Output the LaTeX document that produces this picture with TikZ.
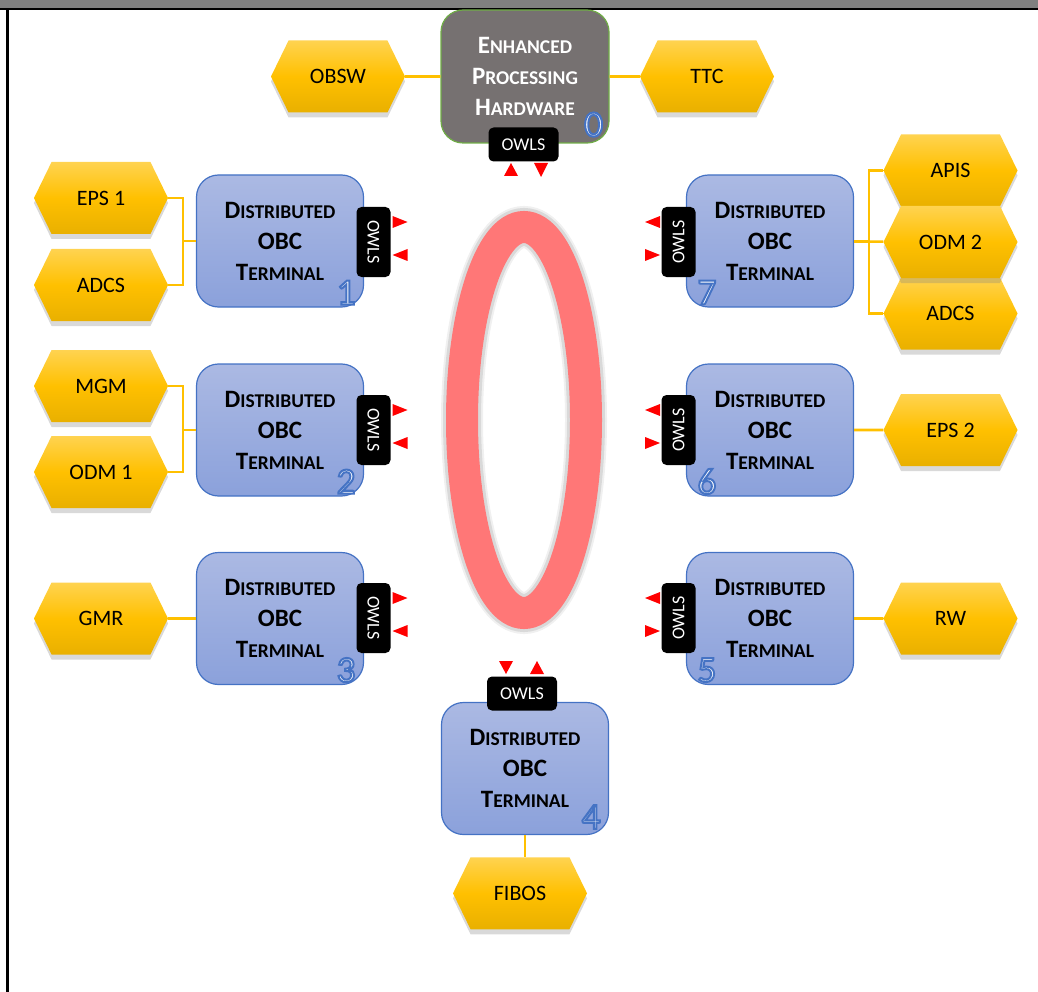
\documentclass[tikz,border=0pt]{standalone}
\usepackage{fontspec}
\setmainfont{Carlito}
\usetikzlibrary{positioning,shapes.symbols,shadows}

\definecolor{hexgold}{HTML}{FFC000}
\definecolor{hextop}{HTML}{FFD350}
\definecolor{hexbot}{HTML}{E9B000}
\definecolor{termtop}{HTML}{ABB9E3}
\definecolor{termbot}{HTML}{8BA1DB}
\definecolor{termline}{HTML}{4472C4}
\definecolor{ehpgray}{HTML}{767171}
\definecolor{ehpline}{HTML}{70AD47}
\definecolor{ringred}{HTML}{FF7777}
\definecolor{owlred}{HTML}{FF0000}
\definecolor{framegray}{HTML}{808080}

\newcommand{\capsc}[2]{{\fontsize{25}{31}\selectfont #1}{\fontsize{19.5}{31}\selectfont #2}}
\newcommand{\dobc}{\capsc{D}{ISTRIBUTED}\\\capsc{OBC}{}\\\capsc{T}{ERMINAL}}
\newcommand{\outlineno}[1]{\special{pdf:literal direct 2 Tr 2 w 0.27 0.45 0.77 RG}#1\special{pdf:literal direct 0 Tr}}

\begin{document}
\begin{tikzpicture}[x=1pt, y=-1pt,
	term/.style={rectangle, rounded corners=22pt, draw=termline, line width=1.2pt, top color=termtop, bottom color=termbot, minimum width=167pt, minimum height=132pt, inner sep=0pt, align=center, font=\fontsize{19.5}{31}\selectfont\bfseries},
	ehpbox/.style={rectangle, rounded corners=22pt, draw=ehpline, line width=1.2pt, fill=ehpgray, text=white, minimum width=168pt, minimum height=133pt, inner sep=0pt, align=center, font=\fontsize{19.5}{31}\selectfont\bfseries},
	unit/.style={signal, signal to=west and east, signal pointer angle=128, top color=hextop, bottom color=hexbot, middle color=hexgold, minimum width=134pt, minimum height=72pt, inner sep=0pt, font=\fontsize{22}{22}\selectfont, drop shadow={shadow xshift=0pt, shadow yshift=-5pt, opacity=0.3}},
	owl/.style={rectangle, rounded corners=5pt, fill=black, text=white, minimum width=70pt, minimum height=34pt, inner sep=0pt, font=\fontsize{18}{18}\selectfont},
	termno/.style={text=white, inner sep=0pt, font=\fontsize{37}{37}\selectfont},
	link/.style={draw=hexgold, line width=2.6pt}
	]
	\useasboundingbox (0,0) rectangle (1038,992);

	% frame
	\fill[framegray] (0,0) rectangle (1038,8);
	\draw[line width=2.2pt] (0,9) -- (1038,9);
	\draw[line width=2.2pt] (7.5,9) -- (7.5,992);

	% ring
	\coordinate (ring) at (524,420);
	\draw[gray, opacity=0.12, line width=42pt] (ring) ellipse [x radius=62, y radius=193];
	\draw[gray, opacity=0.2, line width=38pt] (ring) ellipse [x radius=62, y radius=193];
	\draw[ringred, line width=32pt] (ring) ellipse [x radius=62, y radius=193];

	% processing hardware
	\node[ehpbox] (ehp) at (525,76.5) {\capsc{E}{NHANCED}\\\capsc{P}{ROCESSING}\\\capsc{H}{ARDWARE}};
	\node[owl] (ow0) at (523.5,144.5) {OWLS};
	\node[termno] (n0) at ([shift={(-16,-19)}]ehp.south east) {\outlineno{0}};

	% terminals
	\node[term] (t1) at (280,241) {\dobc};
	\node[term] (t2) at (280,430) {\dobc};
	\node[term] (t3) at (280,618.5) {\dobc};
	\node[term] (t7) at (770,241) {\dobc};
	\node[term] (t6) at (770,430) {\dobc};
	\node[term] (t5) at (770,618.5) {\dobc};
	\node[term] (t4) at (525,768.5) {\dobc};

	\node[owl, rotate=-90] (ow1) at (373.5,242) {OWLS};
	\node[owl, rotate=-90] (ow2) at (373.5,430) {OWLS};
	\node[owl, rotate=-90] (ow3) at (373.5,618) {OWLS};
	\node[owl, rotate=90] (ow7) at (678.5,242) {OWLS};
	\node[owl, rotate=90] (ow6) at (678.5,430) {OWLS};
	\node[owl, rotate=90] (ow5) at (678.5,618) {OWLS};
	\node[owl] (ow4) at (522,693.5) {OWLS};

	\node[termno] (n1) at ([shift={(-18,-15)}]t1.south east) {\outlineno{1}};
	\node[termno] (n2) at ([shift={(-18,-15)}]t2.south east) {\outlineno{2}};
	\node[termno] (n3) at ([shift={(-18,-15)}]t3.south east) {\outlineno{3}};
	\node[termno] (n7) at ([shift={(21,-15)}]t7.south west) {\outlineno{7}};
	\node[termno] (n6) at ([shift={(21,-15)}]t6.south west) {\outlineno{6}};
	\node[termno] (n5) at ([shift={(21,-15)}]t5.south west) {\outlineno{5}};
	\node[termno] (n4) at ([shift={(-18,-18)}]t4.south east) {\outlineno{4}};

	% owls links
	\foreach \k in {1,2,3} {
		\fill[owlred] ([shift={(19,-26)}]ow\k.center) -- ++(15,6) -- ++(-15,6) -- cycle;
		\fill[owlred] ([shift={(34,7)}]ow\k.center) -- ++(-15,6) -- ++(15,6) -- cycle;
	}
	\foreach \k in {5,6,7} {
		\fill[owlred] ([shift={(-18.5,-26)}]ow\k.center) -- ++(-15,6) -- ++(15,6) -- cycle;
		\fill[owlred] ([shift={(-33.5,7)}]ow\k.center) -- ++(15,6) -- ++(-15,6) -- cycle;
	}
	\fill[owlred] ([shift={(-12.5,18.5)}]ow0.center) -- ++(7,13) -- ++(-14,0) -- cycle;
	\fill[owlred] ([shift={(10.5,18.5)}]ow0.center) -- ++(14,0) -- ++(-7,14) -- cycle;
	\fill[owlred] ([shift={(-23,-32.5)}]ow4.center) -- ++(14,0) -- ++(-7,13) -- cycle;
	\fill[owlred] ([shift={(15,-32.5)}]ow4.center) -- ++(7,13) -- ++(-14,0) -- cycle;

	% units
	\node[unit] (obsw) at (338,76.5) {OBSW};
	\node[unit] (ttc) at (707,76.5) {TTC};
	\node[unit] (eps1) at (101,198) {EPS 1};
	\node[unit] (adcs1) at (101,285) {ADCS};
	\node[unit] (mgm) at (101,386) {MGM};
	\node[unit] (odm1) at (101,472) {ODM 1};
	\node[unit] (gmr) at (101,618.5) {GMR};
	\node[unit] (apis) at (950.5,170.5) {APIS};
	\node[unit] (adcs2) at (950.5,313.5) {ADCS};
	\node[unit] (odm2) at (950.5,242) {ODM 2};
	\node[unit] (eps2) at (950.5,430) {EPS 2};
	\node[unit] (rw) at (950.5,618.5) {RW};
	\node[unit] (fibos) [below=22pt of t4, xshift=-5pt] {FIBOS};

	\coordinate (br1) at (183,241);
	\coordinate (br2) at (183,430);
	\coordinate (br7) at (869,242);

	\path[link]
		(obsw) edge (ehp)
		(ehp) edge (ttc)
		(gmr) edge (t3)
		(t6) edge (eps2)
		(t5) edge (rw)
		(t4.south) edge (t4.south |- fibos.north)
		(br1) edge (t1)
		(br2) edge (t2)
		(t7) edge (odm2)
	;
	\draw[link] (eps1.east) -| (br1) |- (adcs1.east);
	\draw[link] (mgm.east) -| (br2) |- (odm1.east);
	\draw[link] (apis.west) -| (br7) |- (adcs2.west);
\end{tikzpicture}
\end{document}
